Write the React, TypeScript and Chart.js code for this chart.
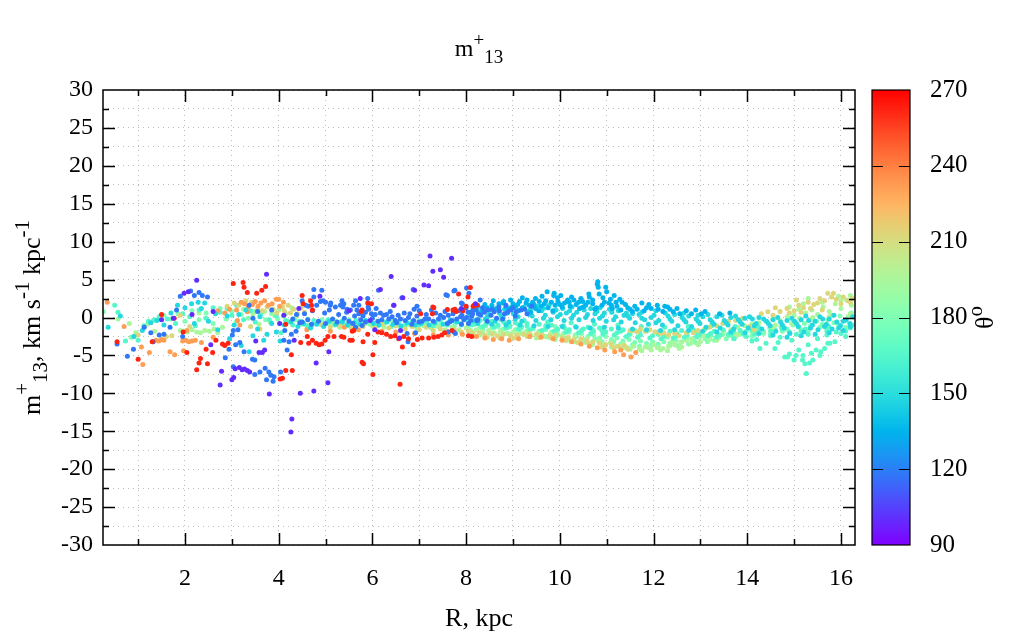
import React, { useEffect, useRef } from 'react';
import { Chart, registerables } from 'chart.js';

Chart.register(...registerables);

type Pt = [number, number];
type Seg = { t: string; k: 'n' | 'sup' | 'sub' };

// ---- axes ----
const X_MIN = 0.25;
const X_MAX = 16.3;
const Y_MIN = -30;
const Y_MAX = 30;
const THETA_MIN = 90;
const THETA_MAX = 270;
const xLabelValues = [2, 4, 6, 8, 10, 12, 14, 16];
const yLabelValues = [-30, -25, -20, -15, -10, -5, 0, 5, 10, 15, 20, 25, 30];
const thetaTickValues = [90, 120, 150, 180, 210, 240, 270];

const titleSegs: Seg[] = [{ t: 'm', k: 'n' }, { t: '+', k: 'sup' }, { t: '13', k: 'sub' }];
const yTitleSegs: Seg[] = [
  { t: 'm', k: 'n' }, { t: '+', k: 'sup' }, { t: '13', k: 'sub' }, { t: ', km s', k: 'n' },
  { t: '-1', k: 'sup' }, { t: ' kpc', k: 'n' }, { t: '-1', k: 'sup' },
];
const cbTitleSegs: Seg[] = [{ t: 'θ', k: 'n' }, { t: 'o', k: 'sup' }];
const xTitleText = 'R, kpc';

// ---- data: [R (kpc), m+13], grouped by colour value theta ----
const purple: Pt[] = [
  [1.50,-0.3],[1.75,-0.1],[1.98,3.2],[2.07,3.4],[2.25,4.9],[2.15,0.4],[2.55,-3.6],[2.60,0.8],[2.75,-8.9],[2.78,-7.1],
  [3.00,-8.2],[3.04,-7.9],[3.07,-6.75],[3.16,-6.6],[3.22,-6.9],[3.27,-6.8],[3.33,-7.0],[3.38,-7.2],[3.51,-3.1],[3.58,-4.6],
  [3.65,-4.6],[3.70,-4.3],[3.74,5.7],[3.80,-10.1],[4.02,-0.8],[4.11,0.3],[4.26,-15.1],[4.28,-13.4],[4.33,-3.0],[4.43,1.2],
  [4.46,-10.0],[4.75,-9.7],[4.80,-6.0],[4.88,2.8],[5.05,-8.6],[5.07,-4.5],[5.50,0.9],[5.74,2.5],[5.95,-0.4],[6.05,-1.6],
  [6.17,3.7],[6.40,5.4],[6.46,1.6],[6.58,-2.7],[6.60,-1.7],[6.65,2.6],[6.90,3.6],[7.10,4.3],[7.20,4.2],[7.23,8.1],
  [7.29,6.1],[7.45,6.3],[7.52,5.3],[7.69,7.8],[7.90,1.2],[8.20,1.8],
];

const red: Pt[] = [
  [0.55,-3.2],[1.00,-5.5],[1.30,-3.2],[1.50,0.4],[1.77,-0.1],[1.96,-1.9],[2.04,-4.6],[2.25,-6.9],[2.30,-6.0],[2.33,-5.4],
  [2.45,-4.2],[2.48,-6.1],[2.59,-4.6],[2.66,-3.0],[2.80,-3.5],[2.85,-3.7],[2.92,-3.4],[3.03,4.5],[3.24,4.6],[3.26,4.0],
  [3.33,3.3],[3.53,3.2],[3.64,3.6],[3.72,4.1],[4.03,-8.1],[4.08,-8.0],[4.15,-7.0],[4.15,-0.9],[4.27,-4.9],[4.29,-7.0],
  [4.47,-3.3],[4.50,2.9],[4.52,1.8],[4.61,-2.5],[4.64,-3.4],[4.68,2.2],[4.70,1.6],[4.72,1.0],[4.72,-3.0],[4.80,-3.4],
  [4.86,-3.6],[4.92,-3.5],[4.99,-3.0],[5.05,-2.5],[5.18,-2.5],[5.34,-2.5],[5.39,-2.6],[5.52,-3.0],[5.57,-1.8],[5.57,-3.0],
  [5.60,-1.7],[5.76,0.8],[5.78,1.0],[5.78,-5.9],[5.81,-6.1],[5.80,-3.2],[5.90,1.9],[5.98,1.8],[6.01,-4.9],[6.01,-7.5],
  [6.05,-3.3],[6.30,-2.2],[6.39,-2.5],[6.48,-2.4],[6.56,-2.8],[6.59,-8.8],[6.64,-3.9],[6.67,-6.0],[6.67,-2.5],[6.77,-2.8],
  [6.87,-3.6],[6.96,-2.9],[7.03,0.5],[7.06,-2.7],[7.20,-2.7],[7.28,0.5],[7.29,1.4],[7.31,-2.6],[7.31,1.3],[7.40,-2.5],
  [7.54,-2.0],[7.60,1.05],[7.70,-1.7],[7.79,0.8],[7.84,3.1],[7.93,0.9],[8.00,1.5],[8.04,2.7],[8.09,3.95],[8.15,1.5],
  [8.17,1.6],[8.24,1.6],[8.05,-2.4],[8.12,-2.5],[7.72,1.0],[7.76,1.1],[6.20,-2.0],[6.12,-1.9],[5.90,-2.2],[7.48,-2.3],
];

const blue: Pt[] = [
  [0.55,-3.5],[0.77,-5.1],[0.90,-4.2],[1.13,-1.3],[1.27,-2.0],[1.32,-3.2],[1.45,-2.3],[1.55,-2.2],[1.68,-1.3],[1.82,1.0],
  [1.90,2.8],[1.95,-2.5],[2.12,3.5],[2.20,2.9],[2.30,3.3],[2.37,2.9],[2.48,2.7],[2.86,-5.3],[2.94,-4.2],[3.01,-2.3],
  [3.03,-1.7],[3.03,-6.5],[3.08,-3.6],[3.13,-1.6],[3.17,-3.3],[3.26,-4.5],[3.37,1.6],[3.44,-5.5],[3.49,-5.6],[3.49,-7.5],
  [3.45,-0.1],[3.55,0.8],[3.60,-7.2],[3.71,-6.7],[3.74,-8.2],[3.79,-7.2],[3.83,-7.6],[3.88,-8.4],[3.90,-7.8],[3.85,1.0],
  [4.04,-7.2],[4.11,-3.0],[4.13,-1.7],[4.18,-4.3],[4.22,-3.2],[4.27,-2.2],[4.30,-0.2],[4.37,-1.8],[4.38,0.4],[4.45,-0.7],
  [4.50,2.2],[4.58,1.6],[4.63,1.5],[4.75,2.7],[4.75,3.7],[4.81,1.6],[4.89,2.1],[4.92,3.6],[4.95,2.2],[5.00,2.0],
  [5.10,1.6],[5.11,1.9],[5.21,1.4],[5.32,1.6],[5.35,2.2],[5.37,1.4],[5.39,1.8],[5.46,1.1],[5.53,1.0],[5.60,1.6],
  [5.64,2.2],[5.64,-1.3],[5.67,1.0],[5.71,0.5],[5.71,1.6],[5.78,-1.05],[5.85,0.7],[5.90,2.5],[5.91,1.4],[5.92,1.1],
  [5.98,0.5],[6.06,0.4],[6.13,3.6],[6.17,0.6],[6.24,0.3],[6.35,-0.2],[6.42,0.1],[6.45,1.6],[6.49,-0.4],[6.60,-0.2],
  [6.63,2.6],[6.70,-0.4],[6.74,-2.1],[6.76,-3.2],[6.77,0.0],[6.87,3.7],[6.88,-0.4],[6.89,1.1],[6.92,-2.0],[6.95,1.5],
  [6.99,-0.6],[7.06,-0.5],[7.20,-0.2],[7.30,-0.5],[7.41,-0.2],[7.52,0.0],[7.57,3.0],[7.60,2.9],[7.62,0.3],[7.62,-1.9],
  [7.70,-0.4],[7.74,3.5],[7.74,-1.9],[7.76,3.6],[7.77,-2.1],[7.80,-0.2],[7.90,1.9],[7.91,0.3],[7.92,1.8],[8.01,0.0],
  [8.01,3.9],[8.06,3.2],[8.05,-0.8],[8.09,0.7],[8.16,1.1],[8.23,-0.4],[8.26,0.5],[8.30,2.3],
  [4.50,-0.6],[4.62,-0.3],[4.70,-0.9],[4.85,-0.5],[5.00,-0.8],[5.15,-0.2],[5.25,-0.6],[5.40,-0.1],[5.50,-0.5],[5.62,0.2],
  [5.75,-0.3],[5.85,-0.6],[6.00,-0.1],[6.12,-0.5],[6.30,0.4],[6.55,0.3],[6.80,0.5],[6.95,0.2],[7.15,0.4],[7.35,0.6],
  [7.55,0.8],[7.65,-0.6],[7.85,0.9],[7.95,-0.3],
  [8.04,0.7],[8.14,0.5],[8.21,1.0],[8.31,0.3],[8.39,0.7],[8.46,1.0],[8.53,0.3],[8.60,0.75],[8.71,0.9],[8.82,0.5],
  [8.89,0.75],[8.96,1.0],[9.07,0.75],[9.17,1.0],[8.25,-0.3],[8.45,-0.5],[8.65,-0.1],[8.10,-0.4],[7.90,-0.9],[8.00,1.3],
  [8.70,1.4],[8.85,1.6],[9.00,1.3],[9.25,1.1],[9.40,1.5],
  [4.55,0.5],[4.72,0.9],[4.98,0.6],[5.08,1.0],[5.28,0.4],[5.45,0.7],[5.58,-0.8],[5.80,0.2],[6.08,1.2],[6.20,-0.3],
  [6.38,0.8],[6.52,-0.7],[6.68,0.6],[6.84,-0.9],[7.00,0.9],[7.12,-0.2],[7.26,1.0],[7.45,0.3],[7.60,-0.8],[7.72,0.5],
  [7.88,0.1],[8.12,0.2],[8.35,1.3],[8.55,1.1],[8.78,-0.2],[9.05,0.2],[9.30,0.5],
];

const orange: Pt[] = [
  [0.34,2.0],[0.70,-1.2],[1.07,-3.9],[1.10,-6.2],[1.24,-4.6],[1.38,-3.0],[1.44,-3.1],[1.50,-2.9],[1.55,-3.0],[1.68,-4.5],
  [1.78,-4.9],[1.97,-4.4],[1.95,-3.1],[2.02,-3.0],[2.08,-3.2],[2.15,-3.1],[2.22,-3.0],[2.35,-3.3],[2.04,-1.7],[2.60,-2.6],
  [2.70,0.9],[2.85,0.6],[2.95,1.1],[3.10,1.0],[3.12,-0.4],[3.17,-1.0],[3.20,2.0],[3.27,1.8],[3.33,0.75],[3.35,1.4],
  [3.44,1.7],[3.50,2.1],[3.56,1.5],[3.62,1.9],[3.70,2.2],[3.78,1.6],[3.86,1.8],[3.95,2.4],[4.02,1.5],[4.10,2.0],
  [4.00,2.4],
  [4.60,-1.6],[5.10,-1.8],[5.40,-1.3],[5.70,-1.6],[6.20,-1.8],[6.50,-1.9],[6.90,-2.1],[7.30,-2.3],[7.62,-2.3],[7.92,-2.2],
  [8.22,-2.5],[8.40,-2.7],[8.58,-2.9],[8.76,-2.8],[8.92,-3.0],[9.12,-2.8],[9.36,-2.5],[9.60,-2.6],[9.86,-2.8],[10.05,-3.0],
  [10.25,-3.2],[10.45,-3.5],[10.63,-3.8],[10.80,-4.0],[10.96,-4.3],[11.17,-4.5],[11.36,-4.9],[11.52,-5.2],[11.62,-4.6],[11.30,-4.3],
];

const sky: Pt[] = [
  [8.45,1.3],[8.55,1.6],[8.62,1.1],[8.70,1.8],[8.78,1.9],[8.85,1.4],[8.92,1.2],[9.00,1.8],[9.05,1.5],[9.14,2.1],
  [9.20,1.3],[9.28,1.9],[9.35,1.6],[9.42,2.0],[9.48,1.2],[9.56,2.1],[9.60,1.5],[9.67,1.8],[9.73,3.4],[9.75,1.3],
  [9.82,2.0],[9.88,3.2],[9.90,1.6],[9.96,2.1],[10.02,2.9],[10.05,1.4],[10.10,1.9],[10.17,2.3],[10.22,1.5],[10.30,2.3],
  [10.35,1.7],[10.42,1.2],[10.49,2.1],[10.55,1.6],[10.62,3.1],[10.63,2.7],[10.70,1.8],[10.78,1.3],[10.80,4.4],[10.81,4.7],
  [10.82,4.0],[10.84,3.1],[10.90,1.6],[10.98,4.0],[11.00,3.4],[11.05,1.9],[11.12,1.2],[11.16,2.9],[11.22,1.5],[11.30,1.0],
  [11.33,2.0],[11.45,1.3],[11.55,0.8],[11.65,1.1],[11.80,0.9],[11.95,1.2],[12.08,1.6],[12.24,1.5],[12.20,0.8],[12.35,1.1],
  [12.42,0.75],[12.56,0.5],[12.70,0.9],[12.81,0.5],[12.90,1.0],[13.02,0.5],[13.10,0.8],[13.41,0.5],[13.63,0.6],[9.30,2.3],
  [9.12,0.9],[9.87,2.9],[10.16,2.2],[10.40,2.0],
  [8.58,2.2],[8.95,2.3],[9.20,2.6],[9.48,2.5],[9.62,2.8],[9.95,2.6],[10.25,2.7],[10.45,2.5],[10.70,2.3],[10.92,2.6],
  [11.08,2.4],[11.28,2.4],[11.40,1.7],[11.60,1.5],[11.75,1.9],[11.90,1.7],[8.35,0.9],[8.88,0.6],[9.38,0.7],[9.85,0.9],
  [8.40,1.7],[8.80,2.1],[9.10,1.7],[9.45,1.7],[9.70,2.2],[10.00,1.7],[10.20,2.0],[10.60,2.0],[10.95,2.0],[11.20,2.0],
  [11.50,1.1],[11.85,1.3],[12.10,1.1],[12.50,1.2],[12.30,1.4],[8.25,1.5],[10.50,1.4],[9.55,0.9],[10.75,1.1],[11.10,1.6],
];

const cyan: Pt[] = [
  [0.36,-1.3],[0.62,0.2],[0.91,-2.5],[1.09,-1.7],[1.27,-0.7],[1.40,-0.4],[1.55,-1.0],[1.70,0.6],[1.84,1.6],[2.00,1.3],
  [2.14,1.8],[2.20,-0.8],[2.28,2.0],[2.35,1.2],[2.42,1.9],[2.50,-0.5],[2.65,0.5],[2.70,-1.6],[2.90,0.2],[2.95,-2.8],
  [3.05,-1.0],[3.15,0.4],[3.20,-3.7],[3.30,1.0],[3.37,-4.5],[3.45,-2.4],[3.55,-1.5],[3.60,0.1],[3.68,-3.0],[3.75,-2.2],
  [3.85,-0.8],[3.95,-1.9],[4.03,-3.1],
  [4.12,-1.0],[4.26,-0.6],[4.41,-1.2],[4.53,-0.8],[4.68,-1.4],[4.81,-0.9],[4.96,-1.2],[5.08,-0.5],[5.22,-0.9],[5.36,-0.6],
  [5.47,-1.0],[5.61,-0.7],[5.73,-0.9],[5.86,-0.4],[6.02,-0.8],[6.14,-1.0],[6.31,-0.6],[6.44,-0.9],[6.61,-1.1],[6.74,-0.7],
  [6.91,-1.0],[7.04,-0.8],[7.21,-1.0],[7.34,-0.7],[7.51,-0.9],[7.66,-0.3],[7.81,-0.6],[7.96,-0.2],
  [8.08,0.2],[8.17,-0.4],[8.31,0.6],[8.41,-0.2],[8.49,0.4],[8.62,-0.5],[8.71,0.6],[8.79,0.0],[8.91,-0.6],[9.01,0.5],
  [9.11,0.1],[9.19,-0.5],[9.32,0.8],[9.41,0.2],[9.49,-0.4],[9.61,0.9],[9.69,0.3],[9.81,-0.3],[9.92,1.0],[10.01,0.4],
  [10.09,-0.4],[10.21,0.9],[10.29,0.3],[10.41,-0.3],[10.52,1.0],[10.59,0.4],[10.71,-0.4],[10.79,0.8],[10.91,0.2],[10.99,-0.5],
  [11.11,0.7],[11.19,0.1],[11.31,-0.6],[11.42,0.6],[11.49,-0.1],[11.61,-0.7],[11.69,0.4],[11.81,-0.3],[11.89,-0.9],[12.01,0.3],
  [12.11,-0.4],[12.19,-1.0],[12.31,0.2],[12.39,-0.5],[12.52,-1.1],[12.61,0.0],[12.69,-0.6],[12.81,-1.2],[12.91,-0.2],[12.99,-0.8],
  [13.12,-1.3],[13.21,-0.3],[13.29,-0.9],[13.42,-1.4],[13.51,-0.4],[13.59,-1.0],[13.71,-1.5],[13.81,-0.3],[13.89,-0.9],[14.02,-1.4],
  [14.11,-0.2],[14.19,-0.8],[14.31,-1.5],[14.41,-0.5],[14.49,-1.1],[14.61,-1.8],[14.71,-0.6],[14.79,-1.4],[14.91,-2.1],[15.01,-0.5],
  [15.09,-1.2],[15.21,-1.9],[15.31,-0.4],[15.39,-1.0],[15.51,-1.6],[15.61,-0.2],[15.69,-0.9],[15.81,-1.5],[15.91,-0.6],[15.99,-1.1],
  [16.11,-0.3],[16.19,-0.8],
  [8.14,1.0],[8.26,0.9],[8.37,1.2],[8.52,1.0],[8.66,1.3],[8.82,1.1],[8.97,1.4],[9.07,1.1],[9.24,1.4],[9.37,1.1],
  [9.53,1.5],[9.65,1.2],[9.77,1.6],[9.86,0.7],[10.06,1.2],[10.14,0.6],[10.26,1.4],[10.36,0.7],[10.46,1.3],[10.66,1.2],
  [10.75,0.5],[10.86,1.3],[10.95,0.6],[11.06,1.1],[11.25,0.9],[11.37,0.3],[11.55,0.5],[11.75,0.7],[11.95,0.0],[12.05,0.9],
  [12.25,0.6],[12.45,0.4],[12.65,0.6],[12.75,0.2],[12.95,0.3],[13.05,0.1],[13.16,0.4],[13.35,0.1],[13.46,0.3],[13.65,0.0],
  [13.75,0.2],[13.95,-0.1],[14.05,0.1],[14.25,0.0],[14.35,-0.2],[14.55,-0.3],[14.65,0.0],[14.85,-0.4],[14.95,-0.1],[15.15,-0.3],
  [15.25,0.2],[15.45,-0.5],[15.55,0.1],[15.75,-0.2],[15.85,0.3],[16.05,-0.5],[16.25,0.1],
  [8.25,-0.8],[8.55,-0.9],[8.85,-1.0],[9.15,-1.0],[9.45,-1.1],[9.75,-1.2],[10.05,-1.2],[10.35,-1.3],[10.65,-1.4],[10.95,-1.3],
  [11.25,-1.4],[11.55,-1.5],[11.85,-1.6],[12.15,-1.7],[12.45,-1.6],[12.75,-1.7],[13.05,-1.8],[13.35,-1.9],[13.65,-1.9],[13.95,-2.0],
  [14.25,-2.1],[14.55,-2.3],[14.85,-2.6],[15.15,-2.4],[15.45,-2.2],[15.75,-2.0],[16.05,-1.7],
  [8.45,0.1],[8.75,0.3],[9.05,-0.2],[9.35,0.4],[9.65,-0.1],[9.95,0.1],[10.25,-0.1],[10.55,0.0],[10.85,-0.1],[11.15,-0.3],
  [11.45,0.2],[11.75,-0.1],[12.05,-0.7],[12.35,-0.2],[12.65,-0.3],[12.95,-0.5],[13.25,-0.6],[13.55,-0.7],[13.85,-0.6],[14.15,-1.1],
  [14.45,-0.8],[14.75,-1.0],[15.05,-0.8],[15.35,-1.4],[15.65,-1.2],[15.95,-1.4],[16.20,-1.2],
];

const khaki: Pt[] = [
  [0.90,-2.5],[1.00,-2.3],[1.60,-2.5],[1.72,-2.4],[1.50,0.2],[1.90,0.3],[2.10,-1.2],[2.90,1.5],[3.05,1.9],[3.15,1.6],
  [3.30,2.2],[3.42,2.0],[3.55,1.2],[3.65,0.9],[3.75,1.4],[3.88,1.1],[3.96,0.6],[4.08,1.4],[4.12,0.9],[4.20,1.6],
  [4.25,0.6],[4.32,1.1],[4.40,0.5],[4.48,1.3],[4.55,0.7],[3.40,-1.2],[3.60,-1.5],
  [4.70,-1.2],[4.90,-0.9],[5.10,-1.3],[5.30,-1.1],[5.55,-1.4],[5.80,-1.2],[6.05,-1.3],[6.20,-0.9],[6.35,-1.4],[6.50,-1.1],
  [6.70,-1.5],[6.85,-1.2],[7.00,-1.6],[7.15,-1.3],[7.30,-1.7],[7.45,-1.5],[7.60,-1.8],[7.75,-1.6],[7.90,-1.9],[8.05,-1.8],
  [8.15,-2.1],[8.28,-2.0],[8.40,-2.3],[8.55,-2.1],[8.66,-2.4],[8.80,-2.2],[8.95,-2.4],[9.08,-2.3],[9.22,-2.2],[9.35,-2.1],
  [9.50,-2.2],[9.62,-2.3],[9.78,-2.4],[9.90,-2.3],[10.05,-2.7],[10.18,-2.6],[10.30,-2.9],[10.45,-2.8],[10.58,-3.1],[10.70,-3.2],
  [10.85,-3.4],[10.98,-3.6],[11.10,-3.5],[11.25,-3.8],[11.38,-3.7],[11.50,-1.7],[11.56,-1.7],[11.65,-1.9],[11.72,-1.5],[11.82,-1.8],
  [11.92,-1.6],[12.03,-1.9],[12.15,-2.1],[12.22,-2.0],[12.32,-2.3],[12.45,-2.1],[12.55,-2.4],[12.70,-2.0],[12.85,-2.0],[12.95,-1.7],
  [13.08,-1.6],[13.20,-1.3],[13.35,-1.1],[13.48,-0.8],[13.60,-0.5],[13.75,-0.4],[13.90,-0.1],[14.05,-1.2],[14.15,-1.6],[14.30,0.5],
  [14.44,0.75],[14.55,0.3],[14.70,0.8],[14.85,1.2],[15.00,0.9],[15.10,1.6],[15.20,1.3],[15.30,2.0],[15.42,1.7],[15.55,2.5],
  [15.72,3.2],[15.84,3.2],[15.90,2.4],[16.05,2.7],[16.15,2.2],[16.25,2.5],[15.05,2.3],[15.60,1.0],
  [8.45,-2.6],[8.72,-2.7],[9.02,-2.7],[9.30,-2.5],[9.56,-2.6],[9.82,-2.7],[10.12,-3.0],[10.38,-3.3],[10.64,-3.5],[10.90,-3.9],
  [11.15,-4.0],[11.45,-4.2],[15.15,0.7],[15.35,1.2],[15.50,1.9],[15.65,2.2],[15.80,2.7],[16.00,1.8],[16.20,2.0],[14.60,1.3],
  [14.90,0.6],
];

const aqua: Pt[] = [
  [0.50,1.6],[0.57,0.7],[0.73,-3.1],[1.00,-3.0],[1.12,-1.1],[1.22,-0.5],[1.35,-0.3],[1.45,0.1],[1.62,-0.2],[1.80,-0.8],
  [1.95,0.5],[2.10,0.1],[2.22,-1.1],[2.30,1.0],[2.45,-0.1],[2.60,1.3],[2.75,0.7],[2.90,1.2],[3.00,0.3],[3.10,1.6],
  [3.25,-0.3],[3.40,0.9],[3.50,-0.6],[3.62,0.5],[3.80,-0.3],[3.95,0.2],[4.05,-2.0],
  [4.15,-0.4],[4.30,-1.0],[4.45,-0.5],[4.60,-1.1],[4.75,-0.4],[4.90,-0.9],[5.05,-0.3],[5.20,-1.0],[5.35,-0.5],[5.50,-1.1],
  [5.65,-0.4],[5.80,-1.0],[5.95,-0.5],[6.10,-1.1],[6.25,-0.6],[6.40,-1.2],[6.55,-0.6],[6.70,-1.1],[6.85,-0.5],[7.00,-1.0],
  [7.15,-0.5],[7.30,-1.1],[7.45,-0.4],[7.60,-1.0],[7.75,-0.5],[7.90,-1.0],
  [8.05,-0.5],[8.18,-0.8],[8.30,-0.4],[8.42,-0.9],[8.55,-0.5],[8.68,-1.0],[8.80,-0.6],[8.93,-1.1],[9.05,-0.7],[9.18,-1.2],
  [9.30,-0.8],[9.43,-1.3],[9.56,-0.9],[9.70,-1.4],[9.82,-1.0],[9.95,-1.5],[10.08,-1.1],[10.20,-1.6],[10.33,-1.2],[10.46,-1.7],
  [10.60,-1.3],[10.72,-1.8],[10.85,-1.4],[10.98,-1.9],[11.10,-1.5],[11.22,-2.0],[11.35,-1.6],[11.48,-2.2],[11.60,-1.7],[11.72,-2.3],
  [11.85,-1.8],[11.98,-2.4],[12.10,-1.9],[12.22,-2.5],[12.35,-1.8],[12.48,-2.4],[12.60,-1.7],[12.72,-2.3],[12.85,-1.6],[12.98,-2.2],
  [13.10,-1.5],[13.22,-2.1],[13.35,-2.6],[13.48,-1.6],[13.60,-2.2],[13.72,-2.8],[13.85,-1.7],[13.98,-2.5],[14.10,-3.1],[14.22,-1.9],
  [14.27,-4.1],[14.40,-3.4],[14.59,-4.1],[14.66,-3.3],[14.80,-5.2],[14.90,-4.8],[15.00,-5.6],[15.10,-4.3],[15.19,-5.0],[15.23,-6.1],
  [15.26,-7.4],[15.37,-4.7],[15.40,-5.6],[15.47,-4.3],[15.55,-5.0],[15.65,-4.1],[15.76,-3.4],[15.87,-3.2],[16.00,-2.1],[15.33,-6.0],
  [15.18,-5.6],[15.04,-5.0],[14.86,-5.2],[15.57,-4.5],[15.72,-3.4],[14.70,-2.6],[14.95,-3.0],[15.05,-2.2],[15.30,-3.6],[15.50,-2.8],
  [15.70,-2.3],[15.90,-1.9],[16.10,-2.5],[16.20,-1.4],[14.50,-2.4],[14.20,-2.9],[15.15,-1.8],
  [8.12,-1.0],[8.36,-1.2],[8.60,-1.3],[8.86,-1.4],[9.12,-1.5],[9.36,-1.6],[9.62,-1.7],[9.88,-1.8],[10.14,-1.9],[10.40,-2.0],
  [10.66,-2.1],[10.92,-2.2],[11.16,-2.3],[11.42,-2.5],[11.66,-2.6],[11.92,-2.7],[12.16,-2.8],[12.42,-2.7],[12.66,-2.6],[12.92,-2.5],
  [13.16,-2.4],[13.42,-2.3],[13.66,-2.2],[13.92,-2.1],[14.16,-2.2],
  [8.24,-0.2],[8.74,-0.3],[9.24,-0.4],[9.74,-0.6],[10.24,-0.7],[10.74,-0.9],[11.24,-1.0],[11.74,-1.2],[12.24,-1.3],[12.74,-1.2],
  [13.24,-1.1],[13.74,-1.2],[14.24,-1.3],[14.74,-1.5],[15.24,-1.5],[15.74,-1.2],[16.24,-1.0],
  [8.50,-0.7],[8.90,-0.9],[9.30,-1.1],[9.70,-1.1],[10.10,-1.4],[10.50,-1.5],[10.90,-1.7],[11.30,-1.8],[11.70,-1.9],[12.10,-2.2],
  [12.50,-2.1],[12.90,-1.9],[13.30,-1.8],[13.70,-1.8],[14.10,-1.6],[14.50,-1.8],[14.90,-1.9],[15.30,-2.2],[15.70,-1.8],[16.10,-1.8],
];

const lime: Pt[] = [
  [0.57,-0.2],[0.81,-0.8],[0.95,-2.0],[1.35,-1.8],[1.90,-1.7],[1.98,-1.8],[2.05,-1.9],[2.15,-1.6],[2.25,-1.9],[2.33,-2.0],
  [2.42,-1.7],[2.52,-1.8],[2.62,-1.5],[2.70,-2.0],[2.80,-1.3],[3.25,1.1],[3.45,0.5],[3.58,-0.9],[3.70,0.8],[3.82,-0.6],
  [3.90,0.4],[4.00,1.0],[4.15,0.5],[4.28,1.3],[4.38,0.2],[2.30,0.6],[1.20,-0.9],
  [4.50,-0.9],[4.65,-1.0],[4.80,-0.6],[4.95,-1.1],[5.15,-0.8],[5.30,-1.3],[5.45,-0.9],[5.65,-1.2],[5.85,-0.8],[6.00,-1.1],
  [6.25,-1.3],[6.45,-0.9],[6.60,-1.3],[6.80,-1.0],[6.95,-1.4],[7.10,-1.1],[7.25,-1.4],[7.40,-1.2],[7.55,-1.6],[7.70,-1.3],
  [7.85,-1.6],[8.00,-1.4],
  [8.10,-1.7],[8.22,-1.6],[8.35,-1.9],[8.48,-1.7],[8.60,-2.0],[8.73,-1.8],[8.86,-2.1],[9.00,-1.9],[9.12,-2.2],[9.25,-2.0],
  [9.38,-2.3],[9.52,-2.1],[9.65,-2.4],[9.80,-2.2],[9.92,-2.5],[10.05,-2.4],[10.18,-2.8],[10.32,-2.6],[10.45,-3.0],[10.58,-2.8],
  [10.70,-3.3],[10.82,-3.1],[10.95,-3.5],[11.08,-3.3],[11.20,-3.8],[11.33,-3.6],[11.45,-4.0],[11.58,-3.8],[11.70,-4.2],[11.82,-3.9],
  [11.95,-4.3],[12.08,-4.0],[12.20,-4.1],[12.32,-3.8],[12.45,-3.6],[12.58,-3.3],[12.70,-3.0],[12.82,-2.8],[12.95,-2.6],[13.08,-2.4],
  [13.20,-2.2],[13.35,-2.0],[13.50,-1.8],[13.65,-1.6],[13.80,-1.3],[13.95,-1.1],[14.10,-0.9],[14.25,-0.7],[14.40,-0.5],[14.55,-0.2],
  [14.70,-0.4],[14.85,0.1],[15.00,0.3],[15.12,-0.1],[15.25,0.6],[15.38,1.0],[15.50,0.4],[15.62,1.4],[15.75,0.8],[15.88,1.8],
  [16.00,1.2],[16.12,2.3],[16.22,1.6],[15.30,2.5],[15.95,2.8],[16.20,2.9],
  [8.30,-2.3],[8.70,-2.4],[9.10,-2.6],[9.50,-2.7],[9.90,-2.9],[10.30,-3.2],[10.70,-3.6],[11.10,-3.9],[11.50,-4.2],[11.90,-4.0],
  [12.30,-4.4],[12.60,-3.9],[13.00,-3.2],[13.40,-2.6],[13.80,-2.2],[14.20,-1.6],[14.60,-1.0],[15.00,-0.5],[15.40,0.0],[15.80,0.3],
  [16.20,0.5],[15.10,1.1],[15.60,2.0],[16.00,2.2],[15.20,1.8],[14.90,1.4],[12.00,-3.6],[12.40,-3.2],[12.80,-3.4],[13.20,-2.9],
  [8.55,-2.2],[8.95,-2.3],[9.35,-2.5],[9.75,-2.6],[10.15,-3.0],[10.55,-3.3],[10.95,-3.7],[11.35,-4.0],[11.75,-4.4],[12.15,-4.3],
  [12.55,-4.1],[12.95,-3.6],[13.35,-3.0],[13.75,-2.5],[14.15,-2.0],[14.55,-1.3],[14.95,-0.8],[15.35,-0.3],[15.75,0.1],[16.15,0.1],
];

const mint: Pt[] = [
  [0.26,0.75],[0.85,-2.6],[1.32,-0.4],[1.55,0.3],[1.70,-0.2],[1.85,0.5],[2.00,-0.5],[2.15,0.9],[2.30,-0.3],[2.45,0.6],
  [2.60,-0.8],[2.75,1.2],[2.88,-0.2],[3.00,0.8],[3.10,-0.5],[3.20,0.4],[3.35,-0.1],[3.48,0.8],[3.60,0.2],[3.72,-0.3],
  [3.85,0.5],[3.98,-0.2],[4.10,0.2],[4.22,-0.5],
  [4.35,-0.3],[4.50,-0.6],[4.62,-0.2],[4.78,-0.7],[4.92,-0.3],[5.05,-0.8],[5.20,-0.4],[5.35,-0.9],[5.50,-0.3],[5.65,-0.8],
  [5.80,-0.5],[5.95,-0.9],[6.10,-0.5],[6.25,-0.8],[6.40,-0.4],[6.55,-0.9],[6.70,-0.5],[6.85,-0.8],[7.00,-0.4],[7.15,-0.9],
  [7.30,-0.6],[7.45,-1.0],[7.60,-0.7],[7.75,-1.1],[7.90,-0.8],
  [8.05,-1.1],[8.18,-0.9],[8.30,-1.3],[8.42,-1.1],[8.55,-1.4],[8.68,-1.2],[8.80,-1.5],[8.93,-1.3],[9.05,-1.6],[9.18,-1.4],
  [9.30,-1.7],[9.43,-1.5],[9.56,-1.8],[9.70,-1.6],[9.82,-1.9],[9.95,-1.7],[10.08,-2.1],[10.20,-1.9],[10.33,-2.3],[10.46,-2.1],
  [10.60,-2.5],[10.72,-2.3],[10.85,-2.7],[10.98,-2.5],[11.10,-2.9],[11.22,-2.7],[11.35,-3.1],[11.48,-2.9],[11.60,-3.3],[11.72,-3.1],
  [11.85,-3.4],[11.98,-3.2],[12.10,-3.5],[12.22,-3.2],[12.35,-3.4],[12.48,-3.0],[12.60,-3.2],[12.72,-2.8],[12.85,-3.0],[12.98,-2.6],
  [13.10,-2.8],[13.22,-2.4],[13.35,-2.6],[13.48,-2.2],[13.60,-2.4],[13.72,-2.0],[13.85,-2.2],[13.98,-1.8],[14.10,-2.0],[14.22,-1.6],
  [14.35,-1.8],[14.48,-1.4],[14.60,-1.6],[14.72,-1.2],[14.85,-1.5],[14.98,-1.0],[15.10,-1.3],[15.22,-0.8],[15.35,-1.1],[15.48,-0.5],
  [15.60,-0.9],[15.72,-0.3],[15.85,-0.7],[15.98,0.2],[16.10,-0.4],[16.22,0.6],
  [8.12,-1.9],[8.50,-2.0],[8.90,-2.1],[9.30,-2.3],[9.70,-2.5],[10.10,-2.7],[10.50,-2.9],[10.90,-3.2],[11.30,-3.5],[11.70,-3.8],
  [12.10,-3.9],[12.50,-3.7],[12.90,-3.3],[13.30,-3.0],[13.70,-2.7],[14.10,-2.5],[14.50,-2.2],[14.90,-2.0],[15.30,-1.7],[15.70,-1.5],
  [16.10,-1.3],[12.30,-2.6],[11.50,-2.2],[10.70,-1.6],[9.90,-1.2],[9.10,-0.9],
  [8.35,-1.6],[8.75,-1.7],[9.15,-1.9],[9.55,-2.1],[9.95,-2.3],[10.35,-2.5],[10.75,-2.8],[11.15,-3.2],[11.55,-3.6],[11.95,-3.7],
  [12.35,-3.7],[12.75,-3.5],[13.15,-3.2],[13.55,-2.8],[13.95,-2.4],[14.35,-2.1],[14.75,-1.8],[15.15,-1.6],[15.55,-1.3],[15.95,-0.9],
];

// first listed is drawn on top
const series = [
  { theta: 100, pts: purple },
  { theta: 262, pts: red },
  { theta: 118, pts: blue },
  { theta: 135, pts: sky },
  { theta: 148, pts: cyan },
  { theta: 232, pts: orange },
  { theta: 213, pts: khaki },
  { theta: 165, pts: aqua },
  { theta: 195, pts: lime },
  { theta: 180, pts: mint },
];

// gnuplot rainbow palette (rgbformulae 33,13,10)
function palette(theta: number): string {
  const x = Math.min(1, Math.max(0, (theta - THETA_MIN) / (THETA_MAX - THETA_MIN)));
  const r = Math.min(1, Math.abs(2 * x - 0.5));
  const g = Math.max(0, Math.sin(Math.PI * x));
  const b = Math.max(0, Math.cos((Math.PI * x) / 2));
  return `rgb(${Math.round(r * 255)},${Math.round(g * 255)},${Math.round(b * 255)})`;
}

const FONT = '"Liberation Serif", "DejaVu Serif", "Times New Roman", serif';

// draws text with super/subscripts, centred on x, baseline at y
function drawRich(ctx: CanvasRenderingContext2D, segs: Seg[], size: number, x: number, y: number) {
  const small = Math.round(size * 0.8);
  const fontFor = (s: Seg) => `${s.k === 'n' ? size : small}px ${FONT}`;
  let total = 0;
  const widths = segs.map((s) => {
    ctx.font = fontFor(s);
    const w = ctx.measureText(s.t).width;
    total += w;
    return w;
  });
  let cx = x - total / 2;
  ctx.textAlign = 'left';
  ctx.textBaseline = 'alphabetic';
  segs.forEach((s, i) => {
    ctx.font = fontFor(s);
    const dy = s.k === 'sup' ? -size * 0.42 : s.k === 'sub' ? size * 0.28 : 0;
    ctx.fillText(s.t, cx, y + dy);
    cx += widths[i];
  });
}

const decorPlugin = {
  id: 'decor',
  afterDatasetsDraw(chart: any) {
    const { ctx, chartArea: a, scales } = chart;
    const xs = scales.x;
    const ys = scales.y;
    const cb = scales.cb;
    ctx.save();
    ctx.strokeStyle = '#000';
    ctx.lineWidth = 1.5;
    ctx.strokeRect(a.left, a.top, a.right - a.left, a.bottom - a.top);
    ctx.beginPath();
    for (const t of xs.ticks) {
      const px = Math.round(xs.getPixelForValue(t.value)) + 0.5;
      const len = xLabelValues.includes(t.value) ? 12 : 6;
      ctx.moveTo(px, a.bottom);
      ctx.lineTo(px, a.bottom - len);
      ctx.moveTo(px, a.top);
      ctx.lineTo(px, a.top + len);
    }
    for (const t of ys.ticks) {
      if (t.value <= Y_MIN || t.value >= Y_MAX) continue;
      const py = Math.round(ys.getPixelForValue(t.value)) + 0.5;
      const len = yLabelValues.includes(t.value) ? 12 : 6;
      ctx.moveTo(a.left, py);
      ctx.lineTo(a.left + len, py);
      ctx.moveTo(a.right, py);
      ctx.lineTo(a.right - len, py);
    }
    ctx.stroke();

    // colour box
    const cbLeft = a.right + 17;
    const cbW = 38;
    const top = Math.round(cb.top);
    const bottom = Math.round(cb.bottom);
    for (let py = top; py < bottom; py++) {
      ctx.fillStyle = palette(cb.getValueForPixel(py + 0.5));
      ctx.fillRect(cbLeft, py, cbW, 1);
    }
    ctx.lineWidth = 1.2;
    ctx.strokeRect(cbLeft, top, cbW, bottom - top);
    ctx.beginPath();
    for (const t of cb.ticks) {
      if (t.value <= THETA_MIN || t.value >= THETA_MAX) continue;
      const py = Math.round(cb.getPixelForValue(t.value)) + 0.5;
      ctx.moveTo(cbLeft, py);
      ctx.lineTo(cbLeft + 11, py);
      ctx.moveTo(cbLeft + cbW - 11, py);
      ctx.lineTo(cbLeft + cbW, py);
    }
    ctx.stroke();

    // texts
    ctx.fillStyle = '#000';
    const cx = (a.left + a.right) / 2;
    const cy = (a.top + a.bottom) / 2;
    drawRich(ctx, titleSegs, 24, cx, 56);
    ctx.font = `26px ${FONT}`;
    ctx.textAlign = 'center';
    ctx.textBaseline = 'middle';
    ctx.fillText(xTitleText, cx, 619);
    ctx.save();
    ctx.translate(40, cy);
    ctx.rotate(-Math.PI / 2);
    drawRich(ctx, yTitleSegs, 26, 0, 0);
    ctx.restore();
    ctx.save();
    ctx.translate(993, cy);
    ctx.rotate(-Math.PI / 2);
    drawRich(ctx, cbTitleSegs, 26, 0, 0);
    ctx.restore();
    ctx.restore();
  },
};

export default function App() {
  const ref = useRef<HTMLCanvasElement | null>(null);
  useEffect(() => {
    if (!ref.current) return;
    const tickFont = { family: FONT, size: 24 };
    const chart = new Chart(ref.current, {
      type: 'scatter',
      data: {
        datasets: series.map((s) => ({
          data: s.pts.map(([x, y]) => ({ x, y })),
          backgroundColor: palette(s.theta),
          pointBackgroundColor: palette(s.theta),
          pointBorderWidth: 0,
          borderWidth: 0,
          pointRadius: 2.5,
          pointHoverRadius: 2.5,
        })),
      },
      options: {
        animation: false,
        responsive: false,
        devicePixelRatio: 1,
        events: [],
        layout: { padding: { left: 0, right: 0, top: 89, bottom: 0 } },
        plugins: { legend: { display: false }, tooltip: { enabled: false }, title: { display: false } },
        scales: {
          x: {
            type: 'linear',
            position: 'bottom',
            min: X_MIN,
            max: X_MAX,
            afterFit: (s: any) => { s.height = 95; },
            grid: { color: '#bdbdbd', lineWidth: 1, drawTicks: false },
            border: { display: false, dash: [1, 4] },
            ticks: {
              stepSize: 1,
              includeBounds: false,
              autoSkip: false,
              maxRotation: 0,
              padding: 19,
              color: '#000',
              font: tickFont,
              callback: (v: any) => (xLabelValues.includes(Number(v)) ? String(v) : ''),
            },
          },
          y: {
            type: 'linear',
            position: 'left',
            min: Y_MIN,
            max: Y_MAX,
            afterFit: (s: any) => { s.width = 103; },
            grid: { color: '#bdbdbd', lineWidth: 1, drawTicks: false },
            border: { display: false, dash: [1, 4] },
            ticks: {
              stepSize: 2.5,
              autoSkip: false,
              padding: 10,
              color: '#000',
              font: tickFont,
              callback: (v: any) => (yLabelValues.includes(Number(v)) ? String(v) : ''),
            },
          },
          cb: {
            type: 'linear',
            position: 'right',
            min: THETA_MIN,
            max: THETA_MAX,
            afterFit: (s: any) => { s.width = 169; },
            grid: { display: false, drawTicks: false },
            border: { display: false },
            ticks: {
              stepSize: 30,
              autoSkip: false,
              padding: 75,
              color: '#000',
              font: { family: FONT, size: 25 },
              callback: (v: any) => (thetaTickValues.includes(Number(v)) ? String(v) : ''),
            },
          },
        },
      } as any,
      plugins: [decorPlugin],
    });
    return () => chart.destroy();
  }, []);
  return (
    <div style={{ position: 'absolute', left: 0, top: 0, width: 1024, height: 640, background: '#fff' }}>
      <canvas ref={ref} width={1024} height={640} style={{ width: 1024, height: 640, display: 'block' }} />
    </div>
  );
}
